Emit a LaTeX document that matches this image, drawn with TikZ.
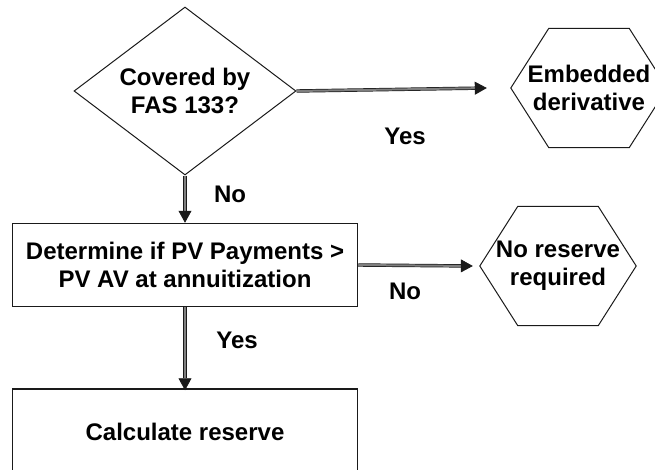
\documentclass[tikz,border=0pt]{standalone}
\usepackage{fontspec}
\setmainfont{Liberation Sans}
\usepackage{xcolor}
\definecolor{edge}{HTML}{1A1A1A}
\definecolor{shaft}{HTML}{7F7F7F}
\usetikzlibrary{positioning,calc,arrows.meta,shapes.geometric}

% hexagon outline round a named node
\newcommand\hexframe[1]{%
  \draw[hxline] (#1.west) -- ([xshift=38pt]#1.north west) -- ([xshift=-38pt]#1.north east)
    -- (#1.east) -- ([xshift=-38pt]#1.south east) -- ([xshift=38pt]#1.south west) -- cycle;}

\begin{document}
\begin{tikzpicture}[x=1pt,y=-1pt,font=\fontsize{24}{28}\selectfont\bfseries,
  dec/.style={diamond,draw=edge,line width=1pt,minimum width=222pt,minimum height=168pt,shape aspect=1.32,inner sep=0pt,align=center},
  bx/.style={rectangle,draw=edge,line width=1.5pt,minimum width=345pt,inner sep=0pt,align=center},
  hx/.style={rectangle,minimum width=156pt,minimum height=119pt,inner sep=0pt,align=center},
  hxline/.style={draw=edge,line width=1pt},
  flow/.style={draw=edge,double=shaft,double distance=2pt,line width=0.7pt,-{Triangle[length=12pt,width=13pt,fill=edge]}},
  lbl/.style={inner sep=0pt}]
  \useasboundingbox (0,0) rectangle (655,469);
  % shapes
  \node[dec] (fas) at (185,91) {Covered by\\FAS 133?};
  \node[hx] (emb) at (589,88) {Embedded\\derivative};
  \hexframe{emb}
  \node[bx,minimum height=83pt] (det) at (185,265) {Determine if PV Payments >\\PV AV at annuitization};
  \node[hx] (nores) at (558,266) {No reserve\\required};
  \hexframe{nores}
  \node[bx,minimum height=86pt] (calc) at (185,432) {Calculate reserve};
  % connectors
  \draw[flow] (fas.east) -- ([xshift=-24pt]emb.west);
  \draw[flow] (fas.south) -- (det.north);
  \draw[flow] (det.east) -- ([xshift=-7pt]nores.west);
  \draw[flow] (det.south) -- ([yshift=-2pt]calc.north);
  % labels
  \node[lbl] (yes1) at (405,136) {Yes};
  \node[lbl] (no1) at (230,194) {No};
  \node[lbl] (no2) at (405,291) {No};
  \node[lbl] (yes2) at (237,340) {Yes};
\end{tikzpicture}
\end{document}
